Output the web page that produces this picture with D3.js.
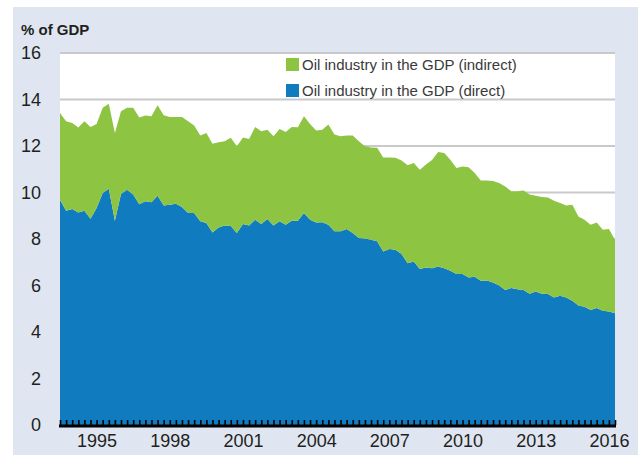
<!DOCTYPE html>
<html>
<head>
<meta charset="utf-8">
<script src="https://cdn.jsdelivr.net/npm/d3@7"></script>
<style>
  body { margin: 0; background: #fff; }
  svg { display: block; font-family: "Liberation Sans", Arial, sans-serif; }
</style>
</head>
<body>
<svg id="chart" width="638" height="455"></svg>
<script>
// --- DATA (quarterly, 1994 Q1 .. 2016 Q4, % of GDP) ---
const startYear = 1994;
const direct = [
  9.69, 9.22, 9.29, 9.14, 9.22, 8.87, 9.33, 9.98, 10.16, 8.79, 9.94, 10.12,
  9.91, 9.50, 9.62, 9.58, 9.86, 9.44, 9.47, 9.52, 9.38, 9.12, 9.12, 8.76,
  8.69, 8.28, 8.50, 8.58, 8.56, 8.26, 8.64, 8.58, 8.83, 8.64, 8.86, 8.58,
  8.76, 8.61, 8.79, 8.79, 9.12, 8.83, 8.71, 8.72, 8.61, 8.33, 8.33, 8.43,
  8.26, 8.04, 8.02, 7.97, 7.90, 7.46, 7.57, 7.54, 7.35, 6.96, 7.03, 6.71,
  6.77, 6.74, 6.82, 6.74, 6.63, 6.49, 6.50, 6.34, 6.38, 6.20, 6.22, 6.13,
  6.00, 5.81, 5.89, 5.84, 5.81, 5.64, 5.74, 5.64, 5.63, 5.48, 5.56, 5.48,
  5.34, 5.14, 5.09, 4.95, 5.03, 4.91, 4.88, 4.81
];
const indirect = [
  3.73, 3.84, 3.70, 3.66, 3.84, 3.95, 3.62, 3.66, 3.66, 3.77, 3.55, 3.52,
  3.73, 3.73, 3.69, 3.70, 3.89, 3.88, 3.78, 3.73, 3.87, 3.94, 3.76, 3.69,
  3.87, 3.82, 3.66, 3.62, 3.79, 3.73, 3.73, 3.72, 3.99, 3.99, 3.84, 3.84,
  3.97, 3.99, 4.03, 4.02, 4.16, 4.12, 3.96, 3.98, 4.31, 4.16, 4.09, 4.02,
  4.19, 4.16, 3.97, 3.97, 4.02, 4.05, 3.94, 3.95, 4.03, 4.21, 4.24, 4.27,
  4.43, 4.66, 4.92, 4.96, 4.78, 4.56, 4.62, 4.75, 4.46, 4.32, 4.30, 4.37,
  4.41, 4.45, 4.16, 4.21, 4.28, 4.27, 4.12, 4.17, 4.16, 4.17, 3.99, 3.96,
  4.13, 3.83, 3.74, 3.66, 3.68, 3.49, 3.55, 3.16
];
const yearLabels = [1995, 1998, 2001, 2004, 2007, 2010, 2013, 2016];
const yTicks = [0, 2, 4, 6, 8, 10, 12, 14, 16];
const seriesKeys = ["direct", "indirect"];
const seriesNames = {
  indirect: "Oil industry in the GDP (indirect)",
  direct: "Oil industry in the GDP (direct)"
};
const colors = { direct: "#107bbf", indirect: "#8dc543" };

// --- SETUP ---
const svg = d3.select("#chart");
const plot = { left: 60, right: 615, top: 53, bottom: 425 };

svg.append("rect").attr("x", 13).attr("y", 7).attr("width", 625).attr("height", 448).attr("fill", "#dfe6f2");
svg.append("rect").attr("x", plot.left).attr("y", plot.top)
  .attr("width", plot.right - plot.left).attr("height", plot.bottom - plot.top).attr("fill", "#fff");

const rows = direct.map((d, i) => ({ t: startYear + i / 4, direct: d, indirect: indirect[i] }));

const x = d3.scaleLinear().domain([startYear, startYear + (rows.length - 1) / 4]).range([plot.left, plot.right]);
const y = d3.scaleLinear().domain([0, 16]).range([plot.bottom, plot.top]);

// gridlines
svg.append("g").selectAll("line").data(yTicks.filter(v => v > 0)).join("line")
  .attr("x1", plot.left).attr("x2", plot.right)
  .attr("y1", d => y(d)).attr("y2", d => y(d))
  .attr("stroke", "#c9c9c9").attr("stroke-width", 2);

// stacked areas
const stacked = d3.stack().keys(seriesKeys)(rows);
const area = d3.area().x(d => x(d.data.t)).y0(d => y(d[0])).y1(d => y(d[1]));
svg.append("g").selectAll("path").data(stacked).join("path")
  .attr("d", area).attr("fill", d => colors[d.key]);

// y axis labels
const yAxis = svg.append("g").attr("transform", `translate(${plot.left},0)`)
  .call(d3.axisLeft(y).tickValues(yTicks).tickSize(0).tickPadding(19));
yAxis.select(".domain").remove();
yAxis.selectAll("text").attr("font-size", 18).attr("fill", "#231f20").style("font-family", "Liberation Sans, Arial, sans-serif");

// x axis: quarterly ticks pointing up
const qAxis = svg.append("g").attr("transform", `translate(0,${plot.bottom})`)
  .call(d3.axisBottom(x).tickValues(rows.map(r => r.t)).tickSize(-5).tickFormat(""));
qAxis.select(".domain").remove();
qAxis.selectAll("line").attr("stroke", "#000").attr("stroke-width", 1.6);
svg.append("line").attr("x1", plot.left - 1).attr("x2", plot.right + 1)
  .attr("y1", plot.bottom + 1).attr("y2", plot.bottom + 1)
  .attr("stroke", "#000").attr("stroke-width", 3);

// year labels (centred on the year)
const yearAxis = svg.append("g").attr("transform", `translate(0,${plot.bottom})`)
  .call(d3.axisBottom(x).tickValues(yearLabels.map(v => v + 0.5)).tickSize(0).tickPadding(9).tickFormat(d => String(Math.floor(d))));
yearAxis.select(".domain").remove();
yearAxis.selectAll("text").attr("font-size", 18).attr("fill", "#231f20").style("font-family", "Liberation Sans, Arial, sans-serif");

// unit title
svg.append("text").attr("x", 21).attr("y", 35).attr("font-size", 15).attr("font-weight", "bold")
  .attr("fill", "#231f20").text("% of GDP");

// legend
const legend = svg.append("g").attr("transform", "translate(286,58)");
["indirect", "direct"].forEach((k, i) => {
  const row = legend.append("g").attr("transform", `translate(0,${i * 26})`);
  row.append("rect").attr("width", 13).attr("height", 13).attr("fill", colors[k]);
  row.append("text").attr("x", 16).attr("y", 12).attr("font-size", 15).attr("fill", "#3a3a3a")
    .text(seriesNames[k]);
});
</script>
</body>
</html>
